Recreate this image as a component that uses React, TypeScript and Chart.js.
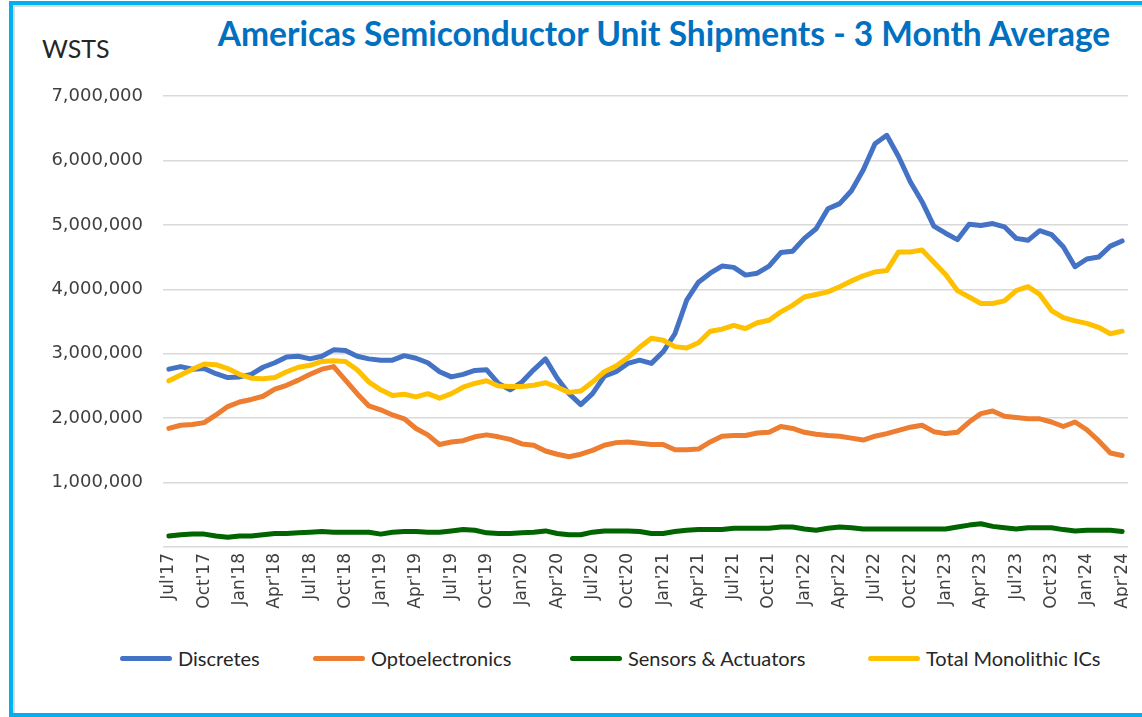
import React, { useEffect, useRef } from "react";
import { Chart, registerables } from "chart.js";

Chart.register(...registerables);

const months = [
  "Jul'17", "Aug'17", "Sep'17", "Oct'17", "Nov'17", "Dec'17",
  "Jan'18", "Feb'18", "Mar'18", "Apr'18", "May'18", "Jun'18", "Jul'18", "Aug'18", "Sep'18", "Oct'18", "Nov'18", "Dec'18",
  "Jan'19", "Feb'19", "Mar'19", "Apr'19", "May'19", "Jun'19", "Jul'19", "Aug'19", "Sep'19", "Oct'19", "Nov'19", "Dec'19",
  "Jan'20", "Feb'20", "Mar'20", "Apr'20", "May'20", "Jun'20", "Jul'20", "Aug'20", "Sep'20", "Oct'20", "Nov'20", "Dec'20",
  "Jan'21", "Feb'21", "Mar'21", "Apr'21", "May'21", "Jun'21", "Jul'21", "Aug'21", "Sep'21", "Oct'21", "Nov'21", "Dec'21",
  "Jan'22", "Feb'22", "Mar'22", "Apr'22", "May'22", "Jun'22", "Jul'22", "Aug'22", "Sep'22", "Oct'22", "Nov'22", "Dec'22",
  "Jan'23", "Feb'23", "Mar'23", "Apr'23", "May'23", "Jun'23", "Jul'23", "Aug'23", "Sep'23", "Oct'23", "Nov'23", "Dec'23",
  "Jan'24", "Feb'24", "Mar'24", "Apr'24",
];

const discretes = [
  2760000, 2800000, 2760000, 2770000, 2690000, 2630000, 2640000, 2680000, 2790000, 2860000,
  2950000, 2960000, 2920000, 2960000, 3060000, 3050000, 2960000, 2920000, 2900000, 2900000,
  2970000, 2930000, 2860000, 2720000, 2640000, 2680000, 2740000, 2750000, 2540000, 2440000,
  2560000, 2750000, 2920000, 2620000, 2380000, 2210000, 2380000, 2650000, 2720000, 2850000,
  2900000, 2850000, 3030000, 3310000, 3830000, 4110000, 4250000, 4360000, 4340000, 4220000,
  4250000, 4360000, 4570000, 4590000, 4790000, 4940000, 5250000, 5330000, 5530000, 5850000,
  6260000, 6390000, 6060000, 5670000, 5360000, 4980000, 4870000, 4770000, 5010000, 4990000,
  5020000, 4970000, 4790000, 4760000, 4910000, 4850000, 4660000, 4350000, 4470000, 4500000,
  4670000, 4750000,
];

const optoelectronics = [
  1840000, 1890000, 1900000, 1930000, 2050000, 2180000, 2250000, 2290000, 2340000, 2450000,
  2510000, 2590000, 2680000, 2760000, 2800000, 2590000, 2380000, 2190000, 2130000, 2050000,
  1990000, 1840000, 1740000, 1590000, 1630000, 1650000, 1710000, 1740000, 1710000, 1670000,
  1600000, 1580000, 1490000, 1440000, 1400000, 1440000, 1500000, 1580000, 1620000, 1630000,
  1610000, 1590000, 1590000, 1510000, 1510000, 1520000, 1630000, 1720000, 1730000, 1730000,
  1770000, 1780000, 1870000, 1840000, 1780000, 1750000, 1730000, 1720000, 1690000, 1660000,
  1720000, 1760000, 1810000, 1860000, 1890000, 1790000, 1760000, 1780000, 1940000, 2070000,
  2110000, 2030000, 2010000, 1990000, 1990000, 1940000, 1870000, 1940000, 1820000, 1650000,
  1460000, 1420000,
];

const sensorsActuators = [
  170000, 190000, 200000, 200000, 170000, 150000, 170000, 170000, 190000, 210000,
  210000, 220000, 230000, 240000, 230000, 230000, 230000, 230000, 200000, 230000,
  240000, 240000, 230000, 230000, 250000, 270000, 260000, 220000, 210000, 210000,
  220000, 230000, 250000, 210000, 190000, 190000, 230000, 250000, 250000, 250000,
  240000, 210000, 210000, 240000, 260000, 270000, 270000, 270000, 290000, 290000,
  290000, 290000, 310000, 310000, 280000, 260000, 290000, 310000, 300000, 280000,
  280000, 280000, 280000, 280000, 280000, 280000, 280000, 310000, 340000, 360000,
  320000, 300000, 280000, 300000, 300000, 300000, 270000, 250000, 260000, 260000,
  260000, 240000,
];

const totalMonolithicICs = [
  2580000, 2670000, 2760000, 2840000, 2830000, 2770000, 2680000, 2620000, 2610000, 2630000,
  2720000, 2790000, 2820000, 2880000, 2890000, 2880000, 2750000, 2560000, 2440000, 2350000,
  2370000, 2330000, 2380000, 2310000, 2380000, 2480000, 2540000, 2580000, 2500000, 2490000,
  2490000, 2510000, 2550000, 2480000, 2400000, 2420000, 2560000, 2720000, 2810000, 2940000,
  3100000, 3240000, 3210000, 3110000, 3090000, 3170000, 3350000, 3380000, 3440000, 3390000,
  3480000, 3520000, 3650000, 3750000, 3880000, 3920000, 3960000, 4040000, 4130000, 4210000,
  4270000, 4290000, 4580000, 4580000, 4610000, 4420000, 4230000, 3980000, 3880000, 3780000,
  3780000, 3820000, 3980000, 4040000, 3920000, 3670000, 3560000, 3510000, 3470000, 3410000,
  3310000, 3350000,
];

const seriesNames = ["Discretes", "Optoelectronics", "Sensors & Actuators", "Total Monolithic ICs"];
const seriesColors = ["#4472C4", "#ED7D31", "#006400", "#FFC000"];
const seriesData = [discretes, optoelectronics, sensorsActuators, totalMonolithicICs];

const legendLeft = [120, 313, 570, 868];

export default function App() {
  const ref = useRef<HTMLCanvasElement>(null);

  useEffect(() => {
    const chart = new Chart(ref.current as HTMLCanvasElement, {
      type: "line",
      data: {
        labels: months,
        datasets: seriesData.map((d, i) => ({
          label: seriesNames[i],
          data: d,
          borderColor: seriesColors[i],
          backgroundColor: seriesColors[i],
          borderWidth: 5,
          pointRadius: 0,
          tension: 0,
          fill: false,
          order: 4 - i,
          borderJoinStyle: "round" as const,
          borderCapStyle: "round" as const,
        })),
      },
      options: {
        animation: false,
        responsive: false,
        maintainAspectRatio: false,
        layout: { padding: { top: 26, right: 0, left: 0, bottom: 0 } },
        plugins: {
          legend: { display: false },
          title: { display: false },
          tooltip: { enabled: false },
        },
        scales: {
          x: {
            offset: true,
            grid: { display: false, drawTicks: false },
            border: { display: false },
            ticks: {
              autoSkip: false,
              maxRotation: 90,
              minRotation: 90,
              padding: 6,
              color: "#404040",
              font: { family: "DejaVu Sans", size: 17 },
              callback: (_v: any, i: number) => (i % 3 === 0 ? months[i] : ""),
            },
            afterFit: (s: any) => {
              s.height = 70;
              s.paddingLeft = 0;
              s.paddingRight = 0;
            },
          },
          y: {
            min: 0,
            max: 7000000,
            ticks: {
              stepSize: 1000000,
              padding: 20,
              color: "#404040",
              font: { family: "DejaVu Sans", size: 18 },
              callback: (v: any) => (Number(v) === 0 ? "" : Number(v).toLocaleString("en-US")),
            },
            grid: { color: "#D9D9D9", lineWidth: 1.5, drawTicks: false },
            border: { display: false },
            afterFit: (s: any) => {
              s.width = 143;
              s.paddingTop = 0;
              s.paddingBottom = 0;
            },
          },
        },
      },
    });
    return () => chart.destroy();
  }, []);

  return (
    <div
      style={{
        position: "fixed",
        left: 0,
        top: 0,
        width: 1142,
        height: 717,
        background: "#fff",
        overflow: "hidden",
      }}
    >
      <div
        style={{
          position: "absolute",
          left: 9,
          top: 1,
          width: 1250,
          height: 716,
          border: "4px solid #00B0F0",
          boxSizing: "border-box",
          boxShadow: "inset 2px 2px 0 #D9D9D9",
        }}
      />
      <div
        style={{
          position: "absolute",
          left: 164,
          width: 1000,
          top: 13,
          textAlign: "center",
          fontFamily: "Lato",
          fontWeight: 700,
          fontSize: 33.5,
          lineHeight: "40px",
          color: "#0070C0",
          whiteSpace: "nowrap",
        }}
      >
        Americas Semiconductor Unit Shipments - 3 Month Average
      </div>
      <div
        style={{
          position: "absolute",
          left: 42,
          top: 33,
          fontFamily: "Lato",
          fontSize: 25,
          lineHeight: "30px",
          color: "#262626",
        }}
      >
        WSTS
      </div>
      <canvas
        ref={ref}
        width={1108}
        height={547}
        style={{ position: "absolute", left: 20, top: 70, width: 1108, height: 547 }}
      />
      {seriesNames.map((n, i) => (
        <div
          key={n}
          style={{
            position: "absolute",
            left: legendLeft[i],
            top: 645,
            height: 26,
            display: "flex",
            alignItems: "center",
            whiteSpace: "nowrap",
          }}
        >
          <div
            style={{
              width: 52,
              height: 5,
              borderRadius: 3,
              background: seriesColors[i],
              marginRight: 6,
            }}
          />
          <span style={{ fontFamily: "Lato", fontSize: 20, color: "#262626" }}>{n}</span>
        </div>
      ))}
    </div>
  );
}
